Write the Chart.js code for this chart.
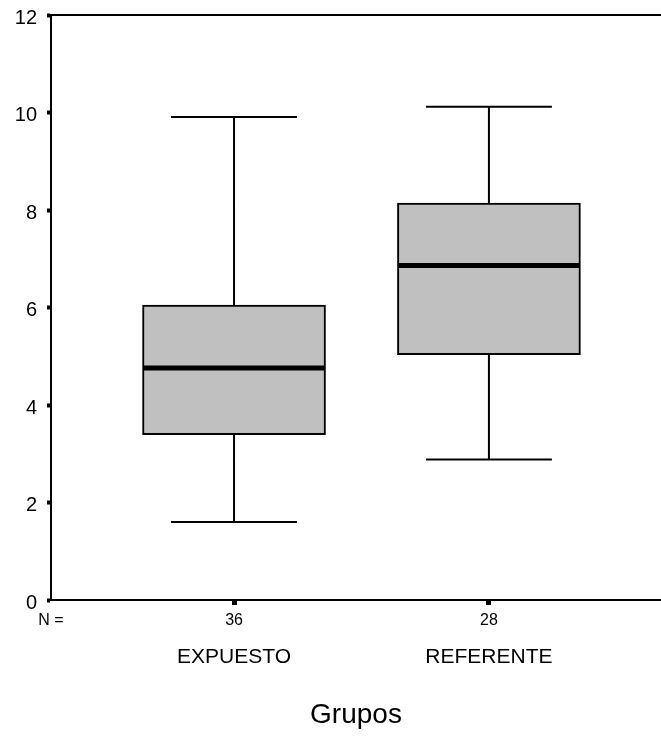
<!DOCTYPE html>
<html>
<head>
<meta charset="utf-8">
<script src="https://cdn.jsdelivr.net/npm/chart.js@4/dist/chart.umd.min.js"></script>
<style>
  html, body { margin: 0; padding: 0; background: #fff; }
  #wrap { width: 661px; height: 740px; }
</style>
</head>
<body>
<div id="wrap"><canvas id="boxChart"></canvas></div>
<script>
const groups = ["EXPUESTO", "REFERENTE"];
const counts = ["36", "28"];
const lowWhisker = [1.6, 2.88];
const q1 = [3.39, 5.03];
const median = [4.76, 6.86];
const q3 = [6.05, 8.14];
const highWhisker = [9.91, 10.12];

const xMin = 0.282, xMax = 2.675;
const capHalf = 0.247, boxHalf = 0.357;
const font = "'Liberation Sans', Arial, sans-serif";

const pos = groups.map((g, i) => i + 1);

// stems and caps, split with null points
const whiskerPts = [];
pos.forEach((x, i) => {
  whiskerPts.push({x: x, y: q3[i]}, {x: x, y: highWhisker[i]}, {x: x, y: null});
  whiskerPts.push({x: x - capHalf, y: highWhisker[i]}, {x: x + capHalf, y: highWhisker[i]}, {x: x, y: null});
  whiskerPts.push({x: x, y: q1[i]}, {x: x, y: lowWhisker[i]}, {x: x, y: null});
  whiskerPts.push({x: x - capHalf, y: lowWhisker[i]}, {x: x + capHalf, y: lowWhisker[i]}, {x: x, y: null});
});

const medianPts = [];
pos.forEach((x, i) => {
  medianPts.push({x: x - boxHalf, y: median[i]}, {x: x + boxHalf, y: median[i]}, {x: x, y: null});
});

const noPad = (scale) => {
  scale.paddingTop = 0; scale.paddingBottom = 0;
  scale.paddingLeft = 0; scale.paddingRight = 0;
};

const ctx = document.getElementById("boxChart").getContext("2d");

new Chart(ctx, {
  type: "bar",
  data: {
    datasets: [
      {
        type: "line",
        data: whiskerPts,
        borderColor: "#000",
        borderWidth: 2,
        pointRadius: 0,
        spanGaps: false,
        order: 3
      },
      {
        data: pos.map((x, i) => ({x: x, y: [q1[i], q3[i]]})),
        backgroundColor: "#c0c0c0",
        borderColor: "#000",
        borderWidth: 2,
        borderSkipped: false,
        barThickness: 183,
        order: 2
      },
      {
        type: "line",
        data: medianPts,
        borderColor: "#000",
        borderWidth: 5,
        pointRadius: 0,
        spanGaps: false,
        order: 1
      }
    ]
  },
  options: {
    responsive: true,
    maintainAspectRatio: false,
    animation: false,
    layout: { padding: 0 },
    plugins: {
      legend: { display: false },
      tooltip: { enabled: false }
    },
    scales: {
      x: {
        type: "linear",
        position: "bottom",
        weight: 0,
        offset: false,
        min: xMin,
        max: xMax,
        afterBuildTicks: (scale) => { scale.ticks = [xMin, 1, 2].map(v => ({value: v})); },
        afterFit: (scale) => { scale.height = 30; noPad(scale); },
        ticks: {
          autoSkip: false,
          maxRotation: 0,
          padding: 6,
          color: "#000",
          font: { family: font, size: 16 },
          callback: (v) => v === xMin ? "N =" : counts[Math.round(v) - 1]
        },
        grid: {
          offset: false,
          drawOnChartArea: false,
          tickLength: 5,
          tickWidth: 5,
          tickColor: (c) => c.index === 0 ? "rgba(0,0,0,0)" : "#000"
        },
        border: { color: "#000", width: 2 }
      },
      x2: {
        type: "linear",
        position: "bottom",
        weight: 1,
        offset: false,
        min: xMin,
        max: xMax,
        afterBuildTicks: (scale) => { scale.ticks = pos.map(v => ({value: v})); },
        afterFit: (scale) => { scale.height = 110; noPad(scale); },
        ticks: {
          autoSkip: false,
          maxRotation: 0,
          padding: 15,
          color: "#000",
          font: { family: font, size: 21 },
          callback: (v) => groups[Math.round(v) - 1]
        },
        grid: { display: false, drawTicks: false, offset: false },
        border: { display: false },
        title: {
          display: true,
          text: "Grupos",
          color: "#000",
          font: { family: font, size: 28 },
          padding: { top: 0, bottom: 8 }
        }
      },
      xTop: {
        type: "linear",
        position: "top",
        offset: false,
        min: xMin,
        max: xMax,
        afterFit: (scale) => { scale.height = 15; noPad(scale); },
        ticks: { display: false },
        grid: { display: false, drawTicks: false, offset: false },
        border: { color: "#000", width: 2 }
      },
      y: {
        min: 0,
        max: 12,
        afterFit: (scale) => { scale.width = 51; noPad(scale); },
        ticks: {
          stepSize: 2,
          padding: 10,
          labelOffset: 3,
          color: "#000",
          font: { family: font, size: 20 }
        },
        grid: {
          drawOnChartArea: false,
          tickLength: 4,
          tickWidth: 4,
          tickColor: "#000"
        },
        border: { color: "#000", width: 2 }
      }
    }
  }
});
</script>
</body>
</html>
